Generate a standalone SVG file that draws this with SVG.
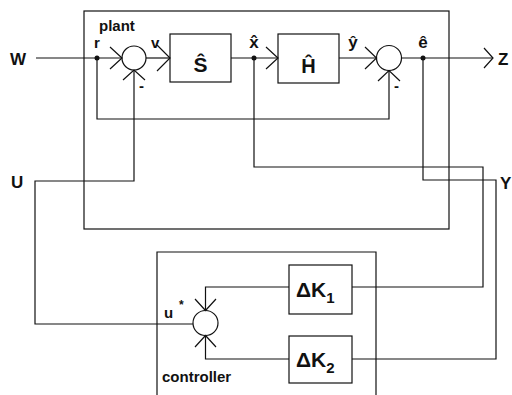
<svg xmlns="http://www.w3.org/2000/svg" width="512" height="395" viewBox="0 0 512 395">
<style>
.l{fill:none;stroke:#111;stroke-width:1.2}
.t{font-family:"Liberation Sans",Arial,sans-serif;font-weight:bold;fill:#111}
.dot{fill:#111}
</style>
<rect width="512" height="395" fill="#fff"/>
<g id="plant">
<rect class="l" x="84" y="11" width="365" height="218"/>
<text class="t" x="99" y="31" font-size="15">plant</text>
</g>
<g id="controller">
<path class="l" d="M157,395 V252 H376 V395"/>
<text class="t" x="162" y="382" font-size="15">controller</text>
</g>
<g id="S">
<rect class="l" x="170" y="34" width="61" height="48"/>
<text class="t" x="200.5" y="72" font-size="21" text-anchor="middle">Ŝ</text>
</g>
<g id="H">
<rect class="l" x="278" y="34" width="61" height="49"/>
<text class="t" x="308.5" y="73" font-size="20" text-anchor="middle">Ĥ</text>
</g>
<g id="dK1">
<rect class="l" x="289" y="265" width="63" height="49"/>
<text class="t" x="296" y="297" font-size="21">ΔK<tspan font-size="15" dy="6">1</tspan></text>
</g>
<g id="dK2">
<rect class="l" x="289" y="336" width="63" height="47"/>
<text class="t" x="296" y="367" font-size="21">ΔK<tspan font-size="15" dy="6">2</tspan></text>
</g>
<g id="sum1">
<circle class="l" cx="134" cy="58" r="12"/>
<text class="t" x="139" y="91" font-size="15">-</text>
</g>
<g id="sum2">
<circle class="l" cx="389" cy="58" r="12.5"/>
<text class="t" x="394" y="91" font-size="15">-</text>
</g>
<g id="sum3">
<circle class="l" cx="205.5" cy="323" r="12.5"/>
</g>
<g id="labels">
<text class="t" x="10" y="65" font-size="17">W</text>
<text class="t" x="11" y="188" font-size="17">U</text>
<text class="t" x="498" y="65" font-size="17">Z</text>
<text class="t" x="500" y="189" font-size="17">Y</text>
<text class="t" x="94" y="48" font-size="15">r</text>
<text class="t" x="151" y="48" font-size="15">v</text>
<text class="t" x="254" y="48" font-size="17" text-anchor="middle">x̂</text>
<text class="t" x="353" y="48" font-size="17" text-anchor="middle">ŷ</text>
<text class="t" x="423" y="48" font-size="17" text-anchor="middle">ê</text>
<text class="t" x="164" y="318" font-size="15">u</text>
<text class="t" x="179" y="309" font-size="12">*</text>
</g>
<g id="connectors">
<path class="l" d="M36,58 H122"/>
<path class="l" d="M110,47 L122,58 L110,69"/>
<path class="l" d="M146,58 H170"/>
<path class="l" d="M157,45 L170,58 L157,71"/>
<path class="l" d="M231,58 H278"/>
<path class="l" d="M266,47 L278,58 L266,69"/>
<path class="l" d="M339,58 H376.5"/>
<path class="l" d="M365,47 L376.5,58 L365,69"/>
<path class="l" d="M401.5,58 H493"/>
<path class="l" d="M484,48 L493,58 L484,68"/>
<path class="l" d="M97,58 V119 H389 V70.5"/>
<path class="l" d="M378,81 L389,70.5 L400,81"/>
<path class="l" d="M134,70 V181 H35 V324 H193"/>
<path class="l" d="M123,80 L134,70 L145,80"/>
<path class="l" d="M254,58 V167 H483 V287 H352"/>
<path class="l" d="M423,58 V180 H496 V359 H352"/>
<path class="l" d="M289,287 H205.5 V310.5"/>
<path class="l" d="M195,299 L205.5,310.5 L216,299"/>
<path class="l" d="M289,359 H205.5 V335.5"/>
<path class="l" d="M195,347 L205.5,335.5 L216,347"/>
<circle class="dot" cx="97" cy="58" r="2.5"/>
<circle class="dot" cx="254" cy="58" r="2.5"/>
<circle class="dot" cx="423" cy="58" r="2.5"/>
</g>
</svg>
